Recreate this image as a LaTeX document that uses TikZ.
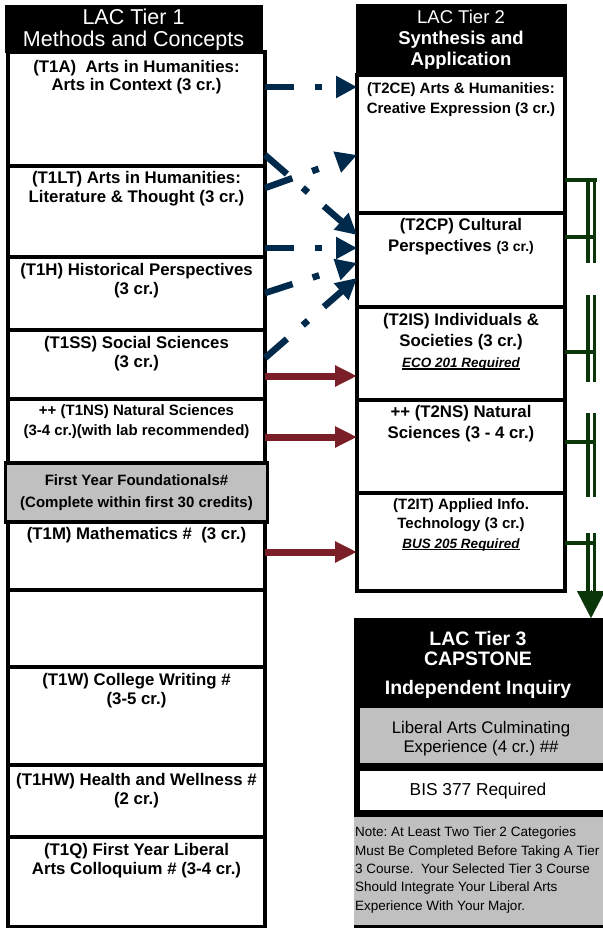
\documentclass[tikz,border=0pt]{standalone}
\usepackage{fontspec}
\setmainfont{Liberation Sans}
\usetikzlibrary{arrows.meta,positioning}
\definecolor{lacnavy}{HTML}{002A4C}
\definecolor{lacmaroon}{HTML}{7A1E28}
\definecolor{lacgreen}{HTML}{0A360A}
\definecolor{lacgray}{HTML}{C0C0C0}
\newcommand{\lacfs}[2]{\fontsize{#1}{#2}\selectfont}
\newcommand{\lacul}[1]{\leavevmode\setbox0=\hbox{#1}\rlap{\rule[-2.2pt]{\wd0}{1.2pt}}\box0}
\frenchspacing

\begin{document}
\begin{tikzpicture}[x=1pt, y=-1pt,
    node distance=0pt,
    colbox/.style={draw=black, line width=3.5pt, fill=white, outer sep=0pt, inner sep=0pt},
    t1box/.style={colbox, minimum width=257pt},
    t2box/.style={colbox, minimum width=208pt},
    hdrbox/.style={draw=black, fill=black, line width=1pt, outer sep=0pt, inner sep=0pt, text=white, align=center},
    t3part/.style={draw=none, outer sep=0pt, inner sep=0pt, anchor=north west},
    t1txt/.style={font=\lacfs{16.8}{19.5}\bfseries, align=center, inner sep=0pt},
    t1small/.style={font=\lacfs{15}{20}\bfseries, align=center, inner sep=0pt},
    t2txt/.style={font=\lacfs{16.8}{21}\bfseries, align=center, inner sep=0pt},
    t2small/.style={font=\lacfs{15}{20}\bfseries, align=center, inner sep=0pt},
    bluearrow/.style={draw=lacnavy, line width=6.5pt, dash pattern=on 29pt off 21pt on 7pt off 21pt, -{Triangle[length=21pt,width=21pt]}},
    redarrow/.style={draw=lacmaroon, line width=7pt, -{Triangle[length=22pt,width=20pt]}},
    gline/.style={draw=lacgreen, line width=3.2pt},
    gbus/.style={draw=lacgreen, line width=3.2pt, double=white, double distance=3pt}
  ]
    \useasboundingbox (0,0) rectangle (602,928);
    \fill[white] (0,0) rectangle (602,928);

    % Tier 1 column
    \node[hdrbox, minimum width=257pt, minimum height=47pt, font=\lacfs{21.5}{22}] (hdr1) at (133.5,29.5) {LAC Tier 1\\Methods and Concepts};
    \node[t1box, minimum height=114pt, anchor=north] (t1a) at (136.5,52) {};
    \node[t1box, minimum height=91pt, below=of t1a] (t1lt) {};
    \node[t1box, minimum height=73pt, below=of t1lt] (t1h) {};
    \node[t1box, minimum height=69pt, below=of t1h] (t1ss) {};
    \node[t1box, minimum height=64pt, below=of t1ss] (t1ns) {};
    \node[t1box, minimum width=262pt, minimum height=59pt, fill=lacgray, below=of t1ns] (found) {};
    \node[t1box, minimum height=68pt, below=of found] (t1m) {};
    \node[t1box, minimum height=77pt, below=of t1m] (blank) {};
    \node[t1box, minimum height=98pt, below=of blank] (t1w) {};
    \node[t1box, minimum height=72pt, below=of t1w] (t1hw) {};
    \node[t1box, minimum height=90pt, below=of t1hw] (t1q) {};

    \node[t1txt, font=\lacfs{16.8}{18.5}\bfseries, below=8pt of t1a.north] (t1a-txt) {(T1A)\ \ Arts in Humanities:\\Arts in Context (3 cr.)};
    \node[t1txt, below=5pt of t1lt.north] (t1lt-txt) {(T1LT) Arts in Humanities:\\Literature \& Thought (3 cr.)};
    \node[t1txt, below=6pt of t1h.north] (t1h-txt) {(T1H) Historical Perspectives\\(3 cr.)};
    \node[t1txt, below=6pt of t1ss.north] (t1ss-txt) {(T1SS) Social Sciences\\(3 cr.)};
    \node[t1small, below=5pt of t1ns.north] (t1ns-txt) {++ (T1NS) Natural Sciences\\(3-4 cr.)(with lab recommended)};
    \node[t1small, font=\lacfs{15}{22}\bfseries] (found-txt) at (found) {First Year Foundationals\#\\(Complete within first 30 credits)};
    \node[t1txt, below=5pt of t1m.north] (t1m-txt) {(T1M) Mathematics \#\ \ (3 cr.)};
    \node[t1txt, below=6pt of t1w.north] (t1w-txt) {(T1W) College Writing \#\\(3-5 cr.)};
    \node[t1txt, below=8pt of t1hw.north] (t1hw-txt) {(T1HW) Health and Wellness \#\\(2 cr.)};
    \node[t1txt, below=6pt of t1q.north] (t1q-txt) {(T1Q) First Year Liberal\\Arts Colloquium \# (3-4 cr.)};

    % Tier 2 column
    \node[hdrbox, minimum width=210pt, minimum height=70pt, font=\lacfs{18.5}{21}] (hdr2) at (461,40) {LAC Tier 2\\\textbf{Synthesis and}\\\textbf{Application}};
    \node[t2box, minimum height=138pt, anchor=north] (t2ce) at (461,75) {};
    \node[t2box, minimum height=94pt, below=of t2ce] (t2cp) {};
    \node[t2box, minimum height=93pt, below=of t2cp] (t2is) {};
    \node[t2box, minimum height=93pt, below=of t2is] (t2ns) {};
    \node[t2box, minimum height=98pt, below=of t2ns] (t2it) {};

    \node[t2small, below=7pt of t2ce.north] (t2ce-txt) {(T2CE) Arts \& Humanities:\\Creative Expression (3 cr.)};
    \node[t2txt, below=5pt of t2cp.north] (t2cp-txt) {(T2CP) Cultural\\Perspectives {\lacfs{14}{21}(3 cr.)}};
    \node[t2txt, below=6pt of t2is.north] (t2is-txt) {(T2IS) Individuals \&\\Societies (3 cr.)\\{\lacfs{13.5}{20}\itshape\lacul{ECO 201 Required}}};
    \node[t2txt, font=\lacfs{16.8}{21.5}\bfseries, below=5pt of t2ns.north] (t2ns-txt) {++ (T2NS) Natural\\Sciences (3 - 4 cr.)};
    \node[t2small, font=\lacfs{15}{19.5}\bfseries, below=5pt of t2it.north] (t2it-txt) {(T2IT) Applied Info.\\Technology (3 cr.)\\{\lacfs{13.5}{19.5}\itshape\lacul{BUS 205 Required}}};

    % Tier 3 capstone
    \node[t3part, fill=black, minimum width=252pt, minimum height=312pt] (t3) at (354,618) {};
    \node[font=\lacfs{19.5}{20}\bfseries, text=white, align=center, inner sep=0pt, anchor=north] (t3-txt) at (478,631) {LAC Tier 3\\CAPSTONE\\[9pt]Independent Inquiry};
    \node[t3part, fill=lacgray, minimum width=246pt, minimum height=55pt] (lace) at (360,708) {};
    \node[font=\lacfs{16.8}{19}, align=center, inner sep=0pt] (lace-txt) at (481,739) {Liberal Arts Culminating\\Experience (4 cr.) \#\#};
    \node[t3part, fill=white, minimum width=246pt, minimum height=39pt] (bis) at (360,771) {};
    \node[font=\lacfs{17.3}{20}, inner sep=0pt] (bis-txt) at (478,791.5) {BIS 377 Required};
    \node[t3part, fill=lacgray, minimum width=252pt, minimum height=108pt] (note) at (354,817) {};
    \node[font=\lacfs{13.5}{18.3}, align=left, inner sep=0pt, anchor=north west] (note-txt) at (355,827) {Note: At Least Two Tier 2 Categories\\Must Be Completed Before Taking A Tier\\3 Course.\ \ Your Selected Tier 3 Course\\Should Integrate Your Liberal Arts\\Experience With Your Major.};

    % dash-dot arrows
    \draw[bluearrow] (t1a.east |- 0,87) -- (t2ce.west |- 0,87);
    \draw[bluearrow] (t1a.east |- 0,155) -- (t2cp.west |- 0,235);
    \draw[bluearrow] (t1lt.east |- 0,188) -- (t2ce.west |- 0,155);
    \draw[bluearrow] (t1lt.east |- 0,248) -- (t2cp.west |- 0,248);
    \draw[bluearrow] (t1h.east |- 0,293) -- (t2cp.west |- 0,263);
    \draw[bluearrow] (t1ss.east |- 0,358) -- (t2cp.west |- 0,278);

    % solid arrows
    \draw[redarrow] (t1ss.east |- 0,376) -- (t2is.west |- 0,376);
    \draw[redarrow] (t1ns.east |- 0,437) -- (t2ns.west |- 0,437);
    \draw[redarrow] (t1m.east |- 0,552) -- (t2it.west |- 0,552);

    % double line to tier 3
    \draw[gbus] (591,179) -- (591,263);
    \draw[gbus] (591,295) -- (591,382);
    \draw[gbus] (591,413) -- (591,497);
    \draw[gbus] (591,533) -- (591,600);
    \draw[gline] (t2ce.east |- 0,180) -- (597,180);
    \draw[gline] (t2cp.east |- 0,237) -- (594,237);
    \draw[gline] (t2is.east |- 0,352) -- (594,352);
    \draw[gline] (t2ns.east |- 0,442) -- (594,442);
    \draw[gline] (t2it.east |- 0,543) -- (594,543);
    \draw[lacgreen, line width=0.1pt, -{Triangle[length=27pt,width=28pt]}] (591,590) -- (t3.north -| 591,0);
  \end{tikzpicture}
\end{document}
